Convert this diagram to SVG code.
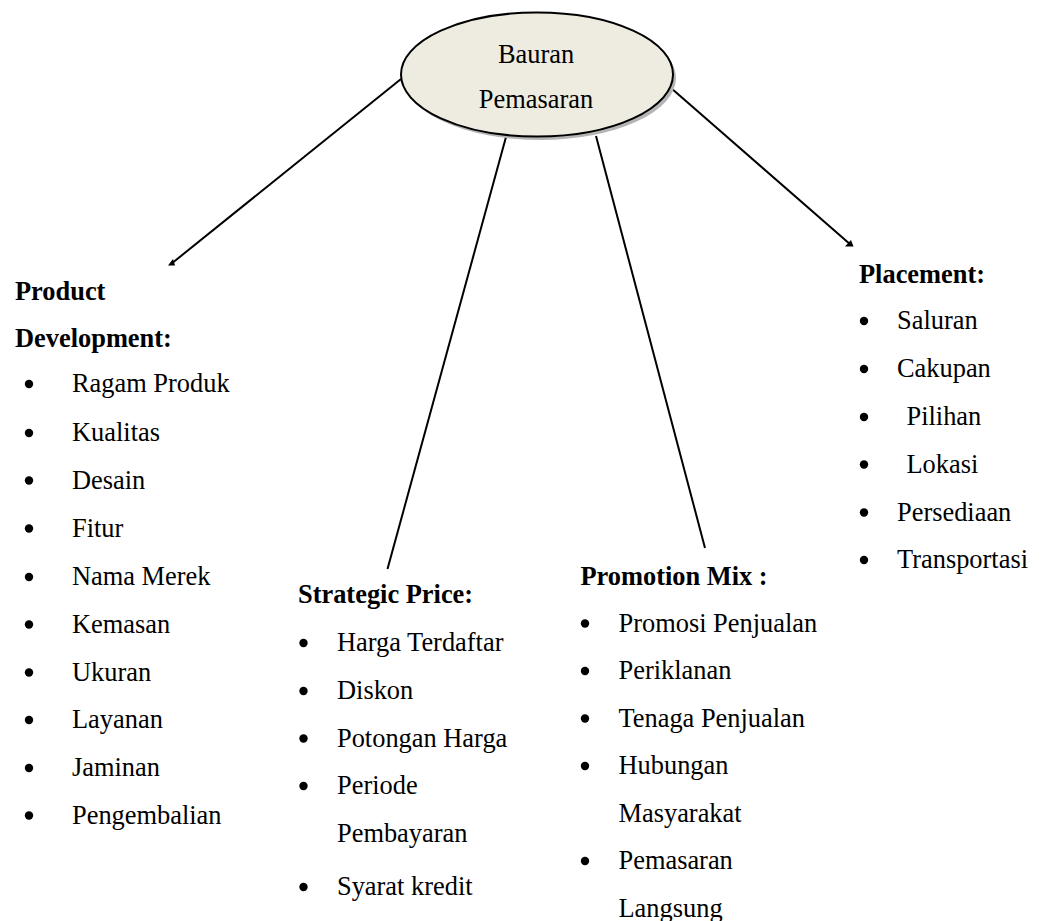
<svg xmlns="http://www.w3.org/2000/svg" width="1041" height="921" viewBox="0 0 1041 921">
<style>
text{font-family:"Liberation Serif","Times New Roman",serif;font-size:26.4px;fill:#000}
.h{font-weight:bold}
.c{text-anchor:middle}
.b{fill:#000}
.ln{stroke:#000;stroke-width:2;fill:none}
</style>
<rect width="1041" height="921" fill="#fff"/>
<g id="connectors">
<line class="ln" x1="401" y1="79" x2="171" y2="264"/>
<polygon points="168,265.5 175,265.5 173,259" fill="#000"/>
<line class="ln" x1="506" y1="137" x2="387.5" y2="569"/>
<line class="ln" x1="596" y1="136" x2="705" y2="548"/>
<line class="ln" x1="671" y1="88" x2="851" y2="245"/>
<polygon points="845,246.5 853.5,246.5 851,240" fill="#000"/>
</g>
<g id="center">
<ellipse cx="540" cy="78" rx="136" ry="62" fill="#b5b5b5"/>
<ellipse cx="537" cy="74.5" rx="136" ry="62" fill="#eeece1" stroke="#000" stroke-width="2"/>
<text class="c" x="536" y="63">Bauran</text>
<text class="c" x="536" y="108">Pemasaran</text>
</g>
<g id="product">
<text class="h" x="15" y="300">Product</text>
<text class="h" x="15" y="346.7">Development:</text>
<circle class="b" cx="29" cy="384" r="4.2"/><text x="72" y="392">Ragam Produk</text>
<circle class="b" cx="29" cy="433" r="4.2"/><text x="72" y="441">Kualitas</text>
<circle class="b" cx="29" cy="480.5" r="4.2"/><text x="72" y="488.5">Desain</text>
<circle class="b" cx="29" cy="528.5" r="4.2"/><text x="72" y="536.5">Fitur</text>
<circle class="b" cx="29" cy="577" r="4.2"/><text x="72" y="585">Nama Merek</text>
<circle class="b" cx="29" cy="624.5" r="4.2"/><text x="72" y="632.5">Kemasan</text>
<circle class="b" cx="29" cy="672.5" r="4.2"/><text x="72" y="680.5">Ukuran</text>
<circle class="b" cx="29" cy="720" r="4.2"/><text x="72" y="728">Layanan</text>
<circle class="b" cx="29" cy="768" r="4.2"/><text x="72" y="776">Jaminan</text>
<circle class="b" cx="29" cy="815.5" r="4.2"/><text x="72" y="823.5">Pengembalian</text>
</g>
<g id="price">
<text class="h" x="298" y="603">Strategic Price:</text>
<circle class="b" cx="303.5" cy="643" r="4.2"/><text x="337" y="651">Harga Terdaftar</text>
<circle class="b" cx="303.5" cy="691" r="4.2"/><text x="337" y="699">Diskon</text>
<circle class="b" cx="303.5" cy="738.5" r="4.2"/><text x="337" y="746.5">Potongan Harga</text>
<circle class="b" cx="303.5" cy="786" r="4.2"/><text x="337" y="794">Periode</text>
<text x="337" y="841.5">Pembayaran</text>
<circle class="b" cx="303.5" cy="887" r="4.2"/><text x="337" y="895">Syarat kredit</text>
</g>
<g id="promotion">
<text class="h" x="580.5" y="585">Promotion Mix :</text>
<circle class="b" cx="585" cy="623.5" r="4.2"/><text x="618.5" y="631.5">Promosi Penjualan</text>
<circle class="b" cx="585" cy="671" r="4.2"/><text x="618.5" y="679">Periklanan</text>
<circle class="b" cx="585" cy="718.5" r="4.2"/><text x="618.5" y="726.5">Tenaga Penjualan</text>
<circle class="b" cx="585" cy="766" r="4.2"/><text x="618.5" y="774">Hubungan</text>
<text x="618.5" y="821.5">Masyarakat</text>
<circle class="b" cx="585" cy="861" r="4.2"/><text x="618.5" y="869">Pemasaran</text>
<text x="618.5" y="916.5">Langsung</text>
</g>
<g id="placement">
<text class="h" x="859" y="282.5">Placement:</text>
<circle class="b" cx="864" cy="321" r="4.2"/><text x="897" y="329">Saluran</text>
<circle class="b" cx="864" cy="369" r="4.2"/><text x="897" y="377">Cakupan</text>
<circle class="b" cx="864" cy="417" r="4.2"/><text x="906.5" y="425">Pilihan</text>
<circle class="b" cx="864" cy="464.5" r="4.2"/><text x="906.5" y="472.5">Lokasi</text>
<circle class="b" cx="864" cy="512.5" r="4.2"/><text x="897" y="520.5">Persediaan</text>
<circle class="b" cx="864" cy="560" r="4.2"/><text x="897" y="568">Transportasi</text>
</g>
</svg>
